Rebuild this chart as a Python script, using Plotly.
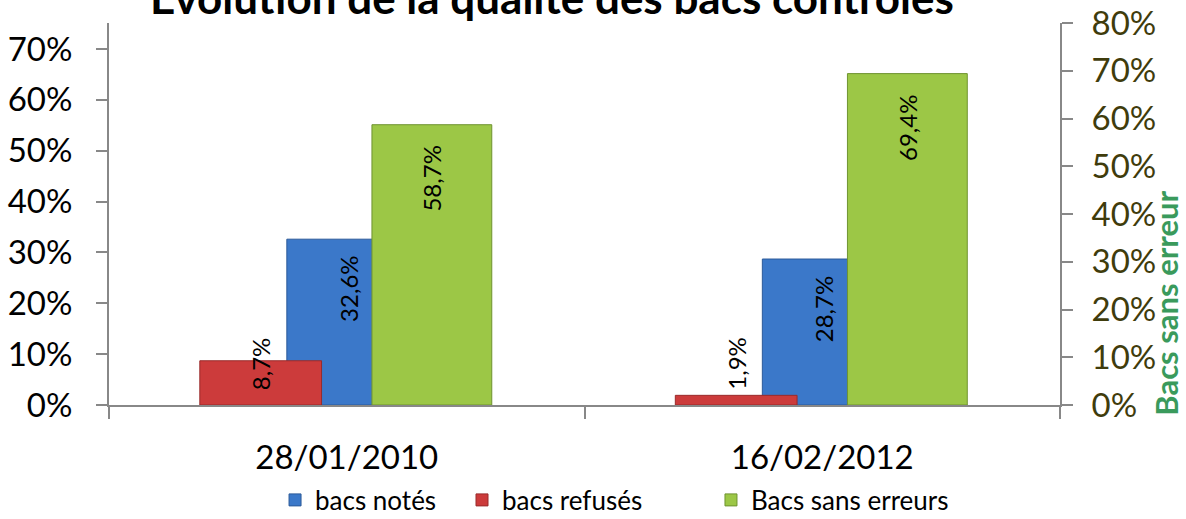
import plotly.graph_objects as go

categories = ["28/01/2010", "16/02/2012"]
bacs_notes = [0.326, 0.287]
bacs_refuses = [0.087, 0.019]
bacs_sans_erreurs = [0.587, 0.694]
labels_notes = ["32,6%", "28,7%"]
labels_refuses = ["8,7%", "1,9%"]
labels_sans = ["58,7%", "69,4%"]
left_ticks = [0, 0.1, 0.2, 0.3, 0.4, 0.5, 0.6, 0.7]
right_ticks = [0, 0.1, 0.2, 0.3, 0.4, 0.5, 0.6, 0.7, 0.8]

FONT = "Lato"
W = 0.256
WG = 0.252
OFF_RED, OFF_BLUE, OFF_GREEN = -0.309, -0.126, 0.053

BLUE, RED, GREEN = "#3b78c9", "#cc3b3b", "#9cc746"

fig = go.Figure()
fig.add_trace(go.Bar(x=categories, y=bacs_notes, name="bacs notés", legend="legend",
                     marker=dict(color=BLUE, line=dict(color="#2c5a99", width=1)),
                     width=W, offset=OFF_BLUE, yaxis="y"))
fig.add_trace(go.Bar(x=categories, y=bacs_refuses, name="bacs refusés", legend="legend2",
                     marker=dict(color=RED, line=dict(color="#992b2b", width=1)),
                     width=W, offset=OFF_RED, yaxis="y"))
fig.add_trace(go.Bar(x=categories, y=bacs_sans_erreurs, name="Bacs sans erreurs", legend="legend3",
                     marker=dict(color=GREEN, line=dict(color="#6f9330", width=1)),
                     width=WG, offset=OFF_GREEN, yaxis="y2"))

ann = []
for i in range(len(categories)):
    ann.append(dict(x=i + OFF_BLUE + W / 2, y=bacs_notes[i], xref="x", yref="y",
                    text=labels_notes[i], textangle=-90, showarrow=False,
                    yanchor="top", yshift=-15, font=dict(family=FONT, size=24, color="black")))
    ann.append(dict(x=i + OFF_RED + W / 2, y=0, xref="x", yref="y",
                    text=labels_refuses[i], textangle=-90, showarrow=False,
                    yanchor="bottom", yshift=13, font=dict(family=FONT, size=24, color="black")))
    ann.append(dict(x=i + OFF_GREEN + WG / 2, y=bacs_sans_erreurs[i], xref="x", yref="y2",
                    text=labels_sans[i], textangle=-90, showarrow=False,
                    yanchor="top", yshift=-19, font=dict(family=FONT, size=24, color="black")))

ann.append(dict(x=0.466, y=1.068, xref="paper", yref="paper",
                text="<b>Évolution de la qualité des bacs contrôlés</b>", showarrow=False,
                xanchor="center", yanchor="middle", font=dict(family=FONT, size=44, color="black")))
ann.append(dict(x=1, y=0.265, xref="paper", yref="paper", xshift=126,
                text="<b>Bacs sans erreur</b>", textangle=-90, showarrow=False,
                xanchor="right", yanchor="middle", borderpad=0,
                font=dict(family=FONT, size=31, color="#3a9a5c")))

legend_common = dict(orientation="h", y=-0.2487, xanchor="left", yanchor="middle",
                     font=dict(family=FONT, size=26, color="black"), itemwidth=30,
                     bgcolor="rgba(0,0,0,0)")

fig.update_layout(
    width=1186, height=519,
    margin=dict(l=109, r=126, t=23, b=114, autoexpand=False),
    paper_bgcolor="white", plot_bgcolor="white",
    barmode="overlay",
    showlegend=True,
    legend=dict(x=0.1746, **legend_common),
    legend2=dict(x=0.3712, **legend_common),
    legend3=dict(x=0.6330, **legend_common),
    annotations=ann,
    xaxis=dict(showline=True, linecolor="#888888", linewidth=2, ticks="outside",
               tickson="boundaries", ticklen=12, tickcolor="#888888", tickwidth=2,
               tickfont=dict(family=FONT, size=33, color="black"), showgrid=False,
               range=[-0.5, 1.5], automargin=False, ticklabelstandoff=22),
    yaxis=dict(range=[0, 0.751], tickvals=left_ticks, tickformat=".0%",
               showline=True, linecolor="#888888", linewidth=2, ticks="outside",
               ticklen=11, tickcolor="#888888", tickwidth=2, showgrid=False, zeroline=False,
               tickfont=dict(family=FONT, size=33, color="black"),
               automargin=False, ticklabelstandoff=17),
    yaxis2=dict(range=[0, 0.8], tickvals=right_ticks, tickformat=".0%", overlaying="y",
                side="right", showline=True, linecolor="#888888", linewidth=2, ticks="outside",
                ticklen=11, tickcolor="#888888", tickwidth=2, showgrid=False, zeroline=False,
                tickfont=dict(family=FONT, size=33, color="#3f3c0c"),
                automargin=False, ticklabelstandoff=12),
)

fig.write_html("out.html", config={"displayModeBar": False},
               post_script="document.body.style.margin='0';")
